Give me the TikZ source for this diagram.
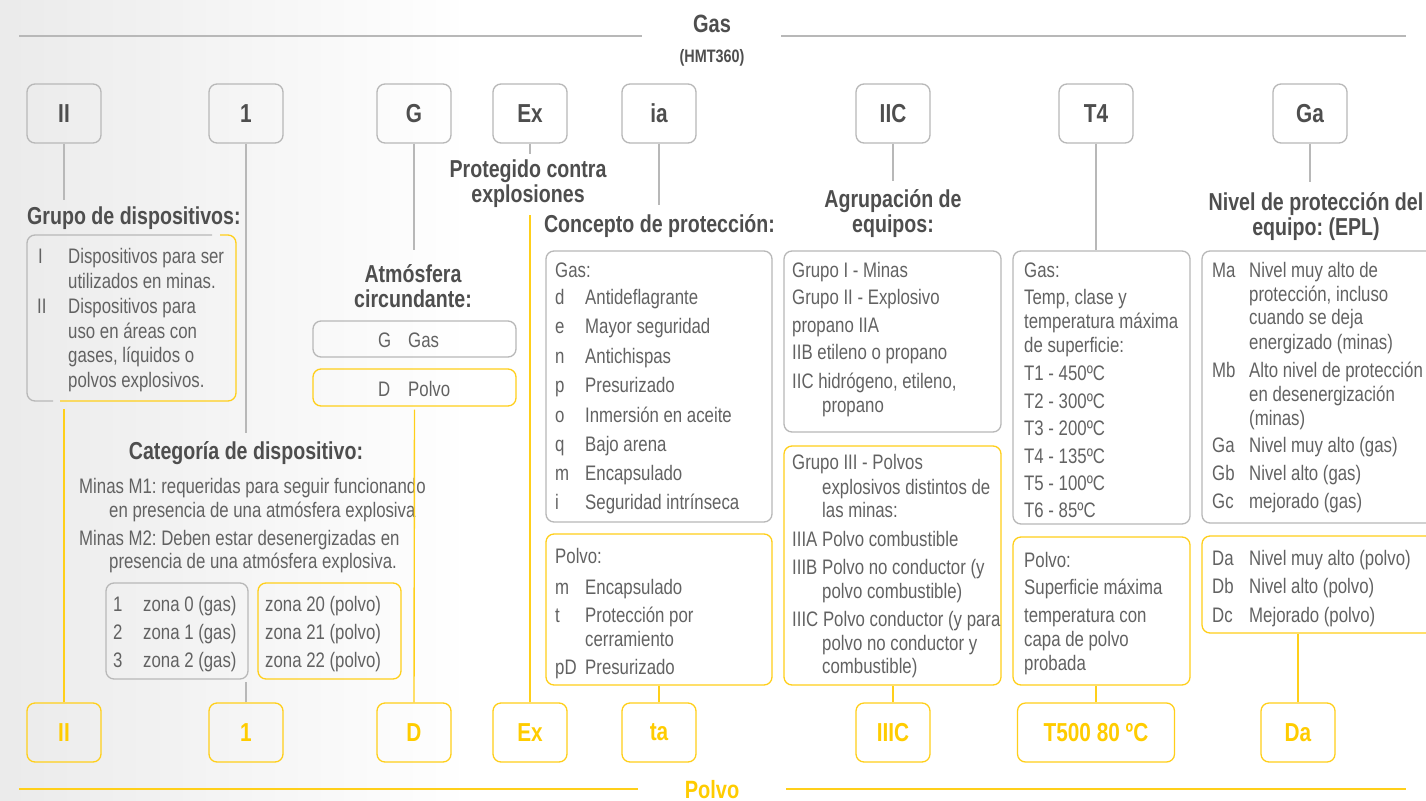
\documentclass[tikz,border=0pt]{standalone}
\usepackage{fontspec}
\setmainfont{Liberation Sans}[FakeStretch=0.8]
\frenchspacing
\definecolor{ylw}{HTML}{FFCC00}
\definecolor{ylwb}{HTML}{FFCF1A}
\definecolor{grb}{HTML}{B8B8B8}
\definecolor{txc}{HTML}{626262}
\definecolor{hdc}{HTML}{4E4E4E}
\begin{document}
\begin{tikzpicture}[x=1pt,y=-1pt,
  txt/.style={anchor=base west, inner sep=0pt, text=txc, font=\fontsize{21}{25}\selectfont},
  hd/.style={anchor=base, inner sep=0pt, text=hdc, font=\fontsize{24.5}{28}\selectfont\bfseries},
  code/.style={draw=grb, line width=1.3pt, rounded corners=8pt, minimum width=74pt, minimum height=59pt, inner sep=0pt, text=hdc, font=\fontsize{26}{30}\selectfont\bfseries},
  ycode/.style={code, draw=ylwb, text=ylw},
  gbox/.style={draw=grb, line width=1.3pt, rounded corners=8pt, inner sep=0pt},
  ybox/.style={gbox, draw=ylwb},
  gl/.style={draw=grb, line width=1.4pt},
  yl/.style={draw=ylwb, line width=1.4pt}]
\useasboundingbox (0,0) rectangle (1426,800);
\fill[white] (0,0) rectangle (1426,800);
\shade[left color=black!8, right color=white] (0,0) rectangle (470,800);

% titles and rules
\node[hd, font=\fontsize{25}{28}\selectfont\bfseries] (gas) at (712,33) {Gas};
\node[hd, font=\fontsize{18}{20}\selectfont\bfseries] (hmt) at (712,63) {(HMT360)};
\node[hd, font=\fontsize{25}{28}\selectfont\bfseries, text=ylw] (polvo) at (712,798) {Polvo};
\coordinate (rl1) at (19,36); \coordinate (rl2) at (642,36);
\coordinate (rr1) at (781,36); \coordinate (rr2) at (1406,36);
\coordinate (bl1) at (19,789); \coordinate (bl2) at (638,789);
\coordinate (br1) at (786,789); \coordinate (br2) at (1406,789);
\draw[gl] (rl1) -- (rl2); \draw[gl] (rr1) -- (rr2);
\draw[yl] (bl1) -- (bl2); \draw[yl] (br1) -- (br2);

% top codes
\node[code] (tII) at (64,113.5) {II};
\node[code] (t1) at (246,113.5) {1};
\node[code] (tG) at (414,113.5) {G};
\node[code] (tEx) at (530,113.5) {Ex};
\node[code] (tia) at (659,113.5) {ia};
\node[code] (tIIC) at (893,113.5) {IIC};
\node[code] (tT4) at (1096,113.5) {T4};
\node[code] (tGa) at (1310,113.5) {Ga};

% bottom codes
\node[ycode] (bII) at (64,732.5) {II};
\node[ycode] (b1) at (246,732.5) {1};
\node[ycode] (bD) at (414,732.5) {D};
\node[ycode] (bEx) at (530,732.5) {Ex};
\node[ycode] (bta) at (659,732.5) {ta};
\node[ycode] (bIIIC) at (893,732.5) {IIIC};
\node[ycode, minimum width=157pt] (bT) at (1096,732.5) {T500 80 ºC};
\node[ycode, minimum width=74pt] (bDa) at (1298,732.5) {Da};

% headings
\node[hd, anchor=base west] (hGrupo) at (27,224) {Grupo de dispositivos:};
\node[hd] (hProt1) at (528,177) {Protegido contra};
\node[hd] (hProt2) at (528,202) {explosiones};
\node[hd] (hConc) at (659.5,232) {Concepto de protección:};
\node[hd] (hAgr1) at (893,207) {Agrupación de};
\node[hd] (hAgr2) at (893,232) {equipos:};
\node[hd] (hAtm1) at (413,282) {Atmósfera};
\node[hd] (hAtm2) at (413,307) {circundante:};
\node[hd] (hNiv1) at (1316,210) {Nivel de protección del};
\node[hd] (hNiv2) at (1316,235) {equipo: (EPL)};
\node[hd] (hCat) at (246,459) {Categoría de dispositivo:};

% group box (gray left, yellow right)
\node[inner sep=0pt, minimum width=209pt, minimum height=166pt] (grp) at (131.5,318) {};
\draw[gl, line width=1.3pt, rounded corners=8pt] (212,235) -- (27,235) -- (27,401) -- (53,401);
\draw[yl, line width=1.3pt, rounded corners=8pt] (220,235) -- (236,235) -- (236,401) -- (60,401);
\node[txt] (gI) at (38,263) {I};
\node[txt] (gII) at (37,313) {II};
\foreach \yy/\s [count=\i] in {263/Dispositivos para ser, 288/utilizados en minas., 313/Dispositivos para, 338/uso en áreas con, 362/{gases, líquidos o}, 387/polvos explosivos.}
  \node[txt] (gt\i) at (68,\yy) {\s};

% categoria
\node[txt] (c1) at (79,493) {Minas M1: requeridas para seguir funcionando};
\node[txt] (c2) at (109,517) {en presencia de una atmósfera explosiva};
\node[txt] (c3) at (79,545) {Minas M2: Deben estar desenergizadas en};
\node[txt] (c4) at (109,568) {presencia de una atmósfera explosiva.};
\node[gbox, minimum width=142pt, minimum height=96pt] (zoneG) at (177,631) {};
\node[ybox, minimum width=143pt, minimum height=96pt] (zoneD) at (329.5,631) {};
\foreach \yy/\n/\s [count=\i] in {611/1/zona 0 (gas), 639/2/zona 1 (gas), 667/3/zona 2 (gas)}{
  \node[txt] (zn\i) at (113,\yy) {\n};
  \node[txt] (zg\i) at (143,\yy) {\s};}
\foreach \yy/\s [count=\i] in {611/zona 20 (polvo), 639/zona 21 (polvo), 667/zona 22 (polvo)}
  \node[txt] (zd\i) at (265,\yy) {\s};

% atmosfera
\node[gbox, minimum width=203pt, minimum height=36pt] (atmG) at (414.5,339) {};
\node[ybox, minimum width=203pt, minimum height=37pt] (atmD) at (414.5,387.5) {};
\node[txt] (aG1) at (378,347) {G};
\node[txt] (aG2) at (408,347) {Gas};
\node[txt] (aD1) at (378,396) {D};
\node[txt] (aD2) at (408,396) {Polvo};

% proteccion
\node[gbox, minimum width=226pt, minimum height=271pt] (protG) at (659,386.5) {};
\node[ybox, minimum width=226pt, minimum height=151pt] (protD) at (659,609.5) {};
\node[txt] (pgh) at (555,277) {Gas:};
\foreach \yy/\c/\s [count=\i] in {304/d/Antideflagrante, 333/e/Mayor seguridad, 363/n/Antichispas, 392/p/Presurizado, 422/o/Inmersión en aceite, 451/q/Bajo arena, 480/m/Encapsulado, 509/i/Seguridad intrínseca}{
  \node[txt] (pgc\i) at (555,\yy) {\c};
  \node[txt] (pgt\i) at (585,\yy) {\s};}
\node[txt] (pdh) at (555,563) {Polvo:};
\node[txt] (pdc1) at (555,594) {m};
\node[txt] (pdt1) at (585,594) {Encapsulado};
\node[txt] (pdc2) at (555,622) {t};
\node[txt] (pdt2) at (585,622) {Protección por};
\node[txt] (pdt3) at (585,646) {cerramiento};
\node[txt] (pdc4) at (555,674) {pD};
\node[txt] (pdt4) at (585,674) {Presurizado};

% agrupacion
\node[gbox, minimum width=217pt, minimum height=181pt] (grpG) at (892.5,341.5) {};
\node[ybox, minimum width=217pt, minimum height=239pt] (grpD) at (892.5,565.5) {};
\foreach \xx/\yy/\s [count=\i] in {792/277/Grupo I - Minas, 792/304/Grupo II - Explosivo, 792/332/propano IIA, 792/359/IIB etileno o propano, 792/388/{IIC hidrógeno, etileno,}, 822/412/propano}
  \node[txt] (ag\i) at (\xx,\yy) {\s};
\foreach \xx/\yy/\s [count=\i] in {792/469/Grupo III - Polvos, 822/494/explosivos distintos de, 822/517/las minas:, 792/546/IIIA Polvo combustible, 792/574/IIIB Polvo no conductor (y, 822/598/polvo combustible), 792/626/IIIC Polvo conductor (y para, 822/650/polvo no conductor y, 822/673/combustible)}
  \node[txt] (ad\i) at (\xx,\yy) {\s};

% temperatura
\node[gbox, minimum width=177pt, minimum height=273pt] (tempG) at (1101.5,387.5) {};
\node[ybox, minimum width=177pt, minimum height=148pt] (tempD) at (1101.5,611) {};
\foreach \yy/\s [count=\i] in {277/Gas:, 304/{Temp, clase y}, 328/temperatura máxima, 352/de superficie:, 380/T1 - 450ºC, 408/T2 - 300ºC, 435/T3 - 200ºC, 463/T4 - 135ºC, 490/T5 - 100ºC, 517/T6 - 85ºC}
  \node[txt] (tg\i) at (1024,\yy) {\s};
\foreach \yy/\s [count=\i] in {567/Polvo:, 594/Superficie máxima, 622/temperatura con, 646/capa de polvo, 670/probada}
  \node[txt] (td\i) at (1024,\yy) {\s};

% EPL
\node[gbox, minimum width=238pt, minimum height=272pt] (eplG) at (1321,387) {};
\node[ybox, minimum width=238pt, minimum height=97pt] (eplD) at (1321,584.5) {};
\node[txt] (ec1) at (1212,277) {Ma};
\node[txt] (ec2) at (1212,377) {Mb};
\node[txt] (ec3) at (1212,452) {Ga};
\node[txt] (ec4) at (1212,480) {Gb};
\node[txt] (ec5) at (1212,508) {Gc};
\foreach \yy/\s [count=\i] in {277/Nivel muy alto de, 301/{protección, incluso}, 324/cuando se deja, 349/energizado (minas), 377/Alto nivel de protección, 401/en desenergización, 425/(minas), 452/Nivel muy alto (gas), 480/Nivel alto (gas), 508/mejorado (gas)}
  \node[txt] (et\i) at (1249,\yy) {\s};
\foreach \yy/\c/\s [count=\i] in {565/Da/Nivel muy alto (polvo), 593/Db/Nivel alto (polvo), 622/Dc/Mejorado (polvo)}{
  \node[txt] (edc\i) at (1212,\yy) {\c};
  \node[txt] (edt\i) at (1249,\yy) {\s};}

% connectors
\draw[gl] (tII.south) -- ++(0,56);
\draw[yl] (bII.north) -- ++(0,-293);
\draw[gl] (t1.south) -- ++(0,289);
\draw[gl] (b1.north) -- ++(0,-20);
\draw[gl] (tG.south) -- ++(0,106);
\draw[yl, shorten >=3pt] (bD.north) -- (atmD.south);
\draw[gl] (tEx.south) -- ++(0,10);
\draw[yl] (bEx.north) -- ++(0,-487);
\draw[gl] (tia.south) -- ++(0,61);
\draw[yl] (bta.north) -- (protD.south);
\draw[gl] (tIIC.south) -- ++(0,37);
\draw[yl] (bIIIC.north) -- (bIIIC.north |- grpD.south);
\draw[gl] (tT4.south) -- (tT4.south |- tempG.north);
\draw[yl] (bT.north) -- (bT.north |- tempD.south);
\draw[gl] (tGa.south) -- ++(0,38);
\draw[yl] (bDa.north) -- (bDa.north |- eplD.south);
\end{tikzpicture}
\end{document}
